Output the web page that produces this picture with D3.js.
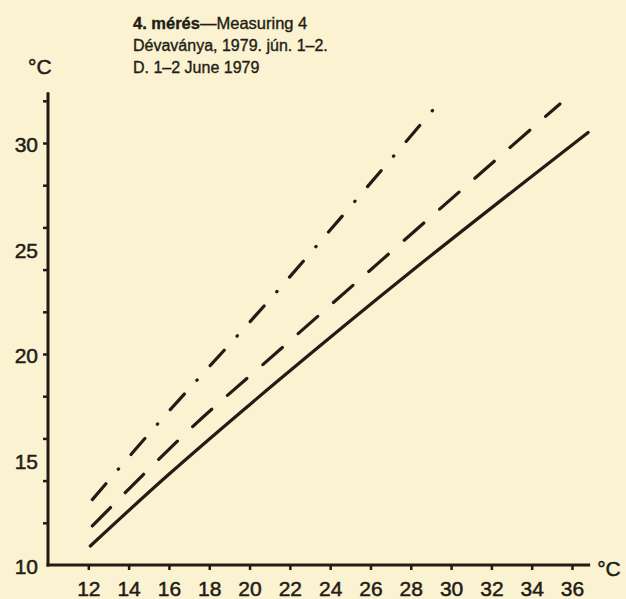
<!DOCTYPE html>
<html><head><meta charset="utf-8">
<script src="https://cdn.jsdelivr.net/npm/d3@7/dist/d3.min.js"></script>
<style>html,body{margin:0;padding:0;background:#faf2d1;overflow:hidden}</style>
</head><body><svg id="c" width="626" height="599"></svg>
<script>
// ---- data ----
const titleBold = "4. mérés";
const titleRest = "—Measuring 4";
const subtitleHu = "Dévaványa, 1979. jún. 1–2.";
const subtitleEn = "D. 1–2 June 1979";
const unitLabel = "°C";
const xTickValues = [12, 14, 16, 18, 20, 22, 24, 26, 28, 30, 32, 34, 36];
const yTickValues = [12, 14, 16, 18, 20, 22, 24, 26, 28, 30, 32];
const yLabelValues = [10, 15, 20, 25, 30];
const solidX = [12.1, 16.0, 21.5, 28.0, 36.8];
const solidY = [10.9, 14.3, 18.8, 23.9, 30.5];
const dashedX = [12.2, 17.0, 21.5, 32.1, 35.4];
const dashedY = [11.85, 16.4, 20.2, 29.1, 31.85];
const dashDotX = [12.2, 15.45, 21.3, 29.4];
const dashDotY = [13.1, 16.7, 22.9, 31.9];

// ---- drawing ----
const ink = "#231c14";
const svg = d3.select("#c");
svg.append("rect").attr("width", 626).attr("height", 599).attr("fill", "#faf2d1");

const x = d3.scaleLinear().domain([10, 36]).range([48, 572]);
const y = d3.scaleLinear().domain([10, 30]).range([565, 143]);
const xMax = 36.9, yMax = 32.4;
const font = "'Liberation Sans', Arial, sans-serif";

function heavy(sel, w) {
  return sel.attr("fill", ink).attr("stroke", ink).attr("stroke-width", w)
    .attr("font-family", font);
}

// axes lines
svg.append("line").attr("x1", x(10)).attr("x2", x(10)).attr("y1", y(10) + 1.5).attr("y2", y(yMax))
  .attr("stroke", ink).attr("stroke-width", 3);
svg.append("line").attr("x1", x(10) - 1.5).attr("x2", x(xMax)).attr("y1", y(10)).attr("y2", y(10))
  .attr("stroke", ink).attr("stroke-width", 3);

// tick marks
const yAxis = d3.axisLeft(y).tickValues(yTickValues).tickSize(5).tickFormat("");
const gy = svg.append("g").attr("transform", `translate(${x(10)},0)`).call(yAxis);
gy.select(".domain").remove();
gy.selectAll("line").attr("stroke", ink).attr("stroke-width", 2.5);

const xAxis = d3.axisBottom(x).tickValues(xTickValues).tickSize(5).tickPadding(6).tickFormat(d => d);
const gx = svg.append("g").attr("transform", `translate(0,${y(10)})`).call(xAxis);
gx.select(".domain").remove();
gx.selectAll("line").attr("stroke", ink).attr("stroke-width", 2.5);
heavy(gx.selectAll("text"), 0.5).attr("font-size", 21).attr("dy", null).attr("y", 31);

// y labels
const yLab = d3.axisLeft(y).tickValues(yLabelValues).tickSize(0).tickPadding(10).tickFormat(d => d);
const gyl = svg.append("g").attr("transform", `translate(${x(10)},0)`).call(yLab);
gyl.select(".domain").remove();
heavy(gyl.selectAll("text"), 0.5).attr("font-size", 21).attr("dy", "0.42em");

// unit labels
heavy(svg.append("text"), 0.5).attr("x", x(10) - 20).attr("y", y(yMax) - 18).text(unitLabel)
  .attr("font-size", 21);
heavy(svg.append("text"), 0.5).attr("x", x(xMax) + 7).attr("y", y(10) + 11).text(unitLabel)
  .attr("font-size", 21);

// title
const tx = 133;
const t1 = heavy(svg.append("text"), 0.35).attr("x", tx).attr("y", 29).attr("font-size", 16.5);
t1.append("tspan").attr("font-weight", "bold").text(titleBold);
t1.append("tspan").text(titleRest);
heavy(svg.append("text"), 0.35).attr("x", tx).attr("y", 51).attr("font-size", 16)
  .text(subtitleHu);
heavy(svg.append("text"), 0.35).attr("x", tx).attr("y", 73).attr("font-size", 16)
  .text(subtitleEn);

// series
const line = d3.line().x(d => x(d[0])).y(d => y(d[1])).curve(d3.curveCatmullRom.alpha(0.5));
const series = [
  { xs: solidX, ys: solidY, dash: null },
  { xs: dashedX, ys: dashedY, dash: "26 21" },
  { xs: dashDotX, ys: dashDotY, dash: "21 19 0.5 19" }
];
series.forEach(s => {
  const pts = s.xs.map((v, i) => [v, s.ys[i]]);
  svg.append("path").attr("d", line(pts)).attr("fill", "none").attr("stroke", ink)
    .attr("stroke-width", 3.2).attr("stroke-linecap", "round")
    .attr("stroke-dasharray", s.dash);
});
</script>
</body></html>
